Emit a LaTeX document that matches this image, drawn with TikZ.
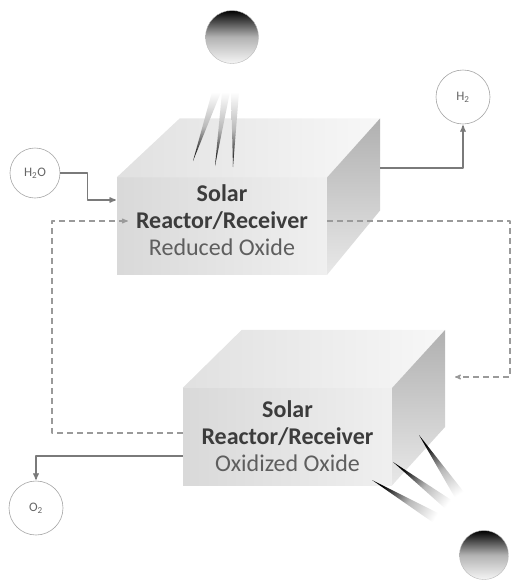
\documentclass[tikz,border=0pt]{standalone}
\usepackage{fontspec}
\setmainfont{Carlito}
\usepackage{tikz}
\usetikzlibrary{arrows,positioning}

\definecolor{linegray}{HTML}{7A7A7A}
\definecolor{dashgray}{HTML}{9A9A9A}
\definecolor{textgray}{HTML}{3C3C3C}
\definecolor{subgray}{HTML}{5E5E5E}

\begin{document}
\begin{tikzpicture}[x=1pt,y=-1pt,>=stealth',line join=round]
  \tikzstyle{gas}=[circle,draw=gray!70,semithick,fill=white,inner sep=0pt,
                   text=gray!80!black,font=\fontsize{13}{15}\selectfont]
  \tikzstyle{face}=[rectangle,inner sep=0pt,minimum height=97pt,
                    left color=gray!30,right color=gray!12]
  \tikzstyle{boxtext}=[align=center,text=textgray,font=\fontsize{24}{27}\selectfont]
  \tikzstyle{flow}=[->,draw=linegray,line width=1.3pt,shorten >=1pt]
  \tikzstyle{back}=[->,draw=dashgray,line width=1.1pt,dash pattern=on 6pt off 4pt]
  \tikzstyle{sun}=[circle,draw=gray!55,thin,minimum size=53pt,inner sep=0pt,
                   top color=black,bottom color=gray!8,middle color=gray!60]
  \tikzstyle{ray}=[top color=black,bottom color=white,middle color=gray!55]

  \useasboundingbox (0,0) rectangle (512,582);

  % upper reactor
  \node[face,minimum width=210pt] (reduced) at (222,226) {};
  \shade[left color=gray!24,right color=gray!6]
    (reduced.north west) -- ++(63,-59) -- ([shift={(53,-59)}]reduced.north east)
    -- (reduced.north east) -- cycle;
  \shade[top color=gray!62,bottom color=gray!18]
    (reduced.north east) -- ++(53,-59) -- ++(0,92) -- (reduced.south east) -- cycle;
  \node[boxtext] at ([yshift=6pt]reduced.center)
    {\textbf{Solar}\\\textbf{Reactor/Receiver}\\\textcolor{subgray}{Reduced Oxide}};

  % lower reactor
  \node[face,minimum width=209pt] (oxidized) at (287.5,436.5) {};
  \shade[left color=gray!24,right color=gray!6]
    (oxidized.north west) -- ++(59,-58) -- ([shift={(53,-58)}]oxidized.north east)
    -- (oxidized.north east) -- cycle;
  \shade[top color=gray!62,bottom color=gray!18]
    (oxidized.north east) -- ++(53,-58) -- ++(0,97) -- (oxidized.south east) -- cycle;
  \node[boxtext] at (oxidized.center)
    {\textbf{Solar}\\\textbf{Reactor/Receiver}\\\textcolor{subgray}{Oxidized Oxide}};

  % suns and rays
  \node[sun] (sunup) at (232,37) {};
  \node[sun,minimum size=49pt] (sundown) at (484,555) {};
  \shade[ray,shading angle=180] (193,161) -- (212,92) -- (221,92) -- cycle;
  \shade[ray,shading angle=180] (215,166) -- (222,92) -- (230,92) -- cycle;
  \shade[ray,shading angle=180] (233,167) -- (231,92) -- (239,92) -- cycle;
  \shade[ray,shading angle=58] (372,480) -- (444,516) -- (438,526) -- cycle;
  \shade[ray,shading angle=52] (393,462) -- (456,503) -- (449,512) -- cycle;
  \shade[ray,shading angle=33] (419,435) -- (467,496) -- (458,503) -- cycle;

  % gases
  \node[gas,minimum size=50pt] (h2o) at (35,173) {H\textsubscript{2}O};
  \node[gas,minimum size=54pt] (h2) at (463,97) {H\textsubscript{2}};
  \node[gas,minimum size=54pt] (o2) at (36,508) {O\textsubscript{2}};
  \coordinate (oxin) at (455,377);

  \draw[flow] (h2o.east) -- ++(27,0) |- ([yshift=26pt]reduced.west);
  \draw[flow] ([shift={(53,-58)}]reduced.east) -| (h2.south);
  \draw[flow] ([yshift=-19.5pt]oxidized.west) -| (o2.north);

  % oxide loop
  \draw[back] ([yshift=5pt]reduced.east) -| (510,377) -- (oxin);
  \draw[back] ([yshift=3.5pt]oxidized.west) -| (52,221) -- ([xshift=11pt,yshift=5pt]reduced.west);
\end{tikzpicture}
\end{document}
